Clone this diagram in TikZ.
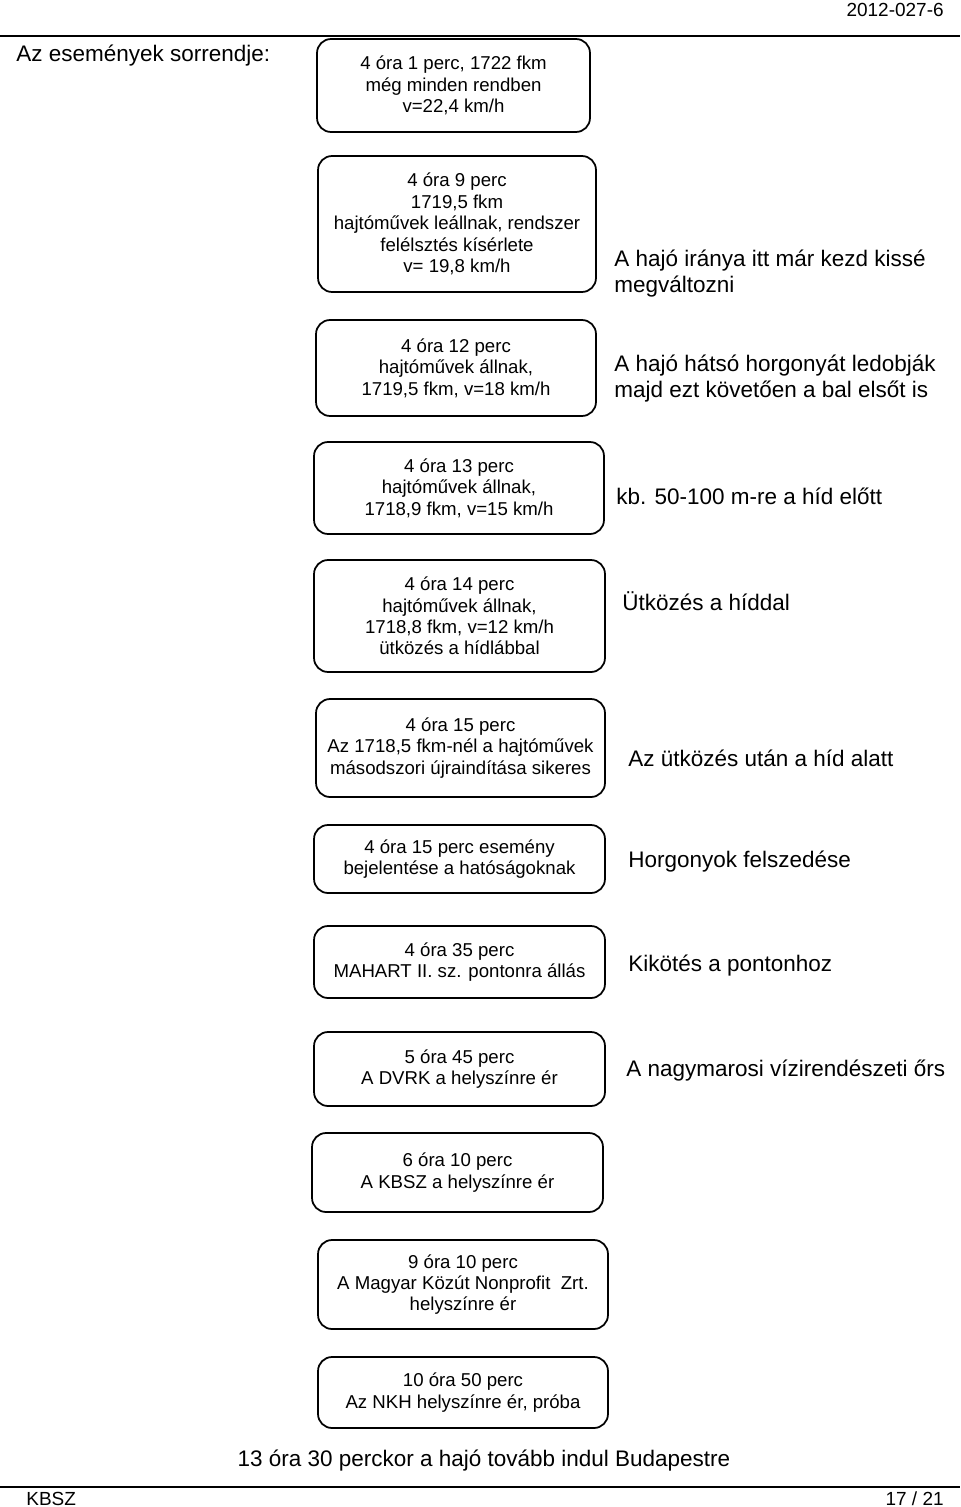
\documentclass[tikz,border=0pt]{standalone}
\usepackage{fontspec}
\setmainfont{Liberation Sans}
\begin{document}
\begin{tikzpicture}[x=0.02cm,y=-0.02cm,
  evbox/.style={draw, line width=1pt, rounded corners=0.28cm, align=center,
    inner sep=0pt, font=\fontsize{10.6}{12.2}\selectfont},
  note/.style={anchor=west, align=left, inner sep=0pt,
    font=\fontsize{12.8}{14.8}\selectfont},
  pagetext/.style={inner sep=0pt, font=\fontsize{10.8}{13}\selectfont}]
\useasboundingbox (0,0) rectangle (960,1507);
% header and footer
\node[pagetext, anchor=east] (docnr) at (944,10) {2012-027-6};
\draw[line width=1pt] (0,36) -- (960,36);
\draw[line width=1pt] (0,1487) -- (960,1487);
\node[pagetext, anchor=west] (kbsz) at (26,1498.5) {KBSZ};
\node[pagetext, anchor=east] (pagenr) at (944,1498.5) {17 / 21};
\node[note] (title) at (16,56) {Az események sorrendje:};
% events
\node[evbox, minimum width=5.46cm, minimum height=1.86cm] (ev1) at (453.5,85.5)
  {4 óra 1 perc, 1722 fkm\\még minden rendben\\v=22,4 km/h};
\node[evbox, minimum width=5.56cm, minimum height=2.72cm] (ev2) at (457,224)
  {4 óra 9 perc\\1719,5 fkm\\hajtóművek leállnak, rendszer\\felélsztés kísérlete\\v= 19,8 km/h};
\node[evbox, minimum width=5.6cm, minimum height=1.92cm] (ev3) at (456,368)
  {4 óra 12 perc\\hajtóművek állnak,\\1719,5 fkm, v=18 km/h};
\node[evbox, minimum width=5.8cm, minimum height=1.84cm] (ev4) at (459,488)
  {4 óra 13 perc\\hajtóművek állnak,\\1718,9 fkm, v=15 km/h};
\node[evbox, minimum width=5.82cm, minimum height=2.24cm] (ev5) at (459.5,616)
  {4 óra 14 perc\\hajtóművek állnak,\\1718,8 fkm, v=12 km/h\\ütközés a hídlábbal};
\node[evbox, minimum width=5.78cm, minimum height=1.96cm] (ev6) at (460.5,748)
  {4 óra 15 perc\\Az 1718,5 fkm-nél a hajtóművek\\másodszori újraindítása sikeres};
\node[evbox, minimum width=5.82cm, minimum height=1.36cm] (ev7) at (459.5,859)
  {4 óra 15 perc esemény\\bejelentése a hatóságoknak};
\node[evbox, minimum width=5.82cm, minimum height=1.44cm] (ev8) at (459.5,962)
  {4 óra 35 perc\\MAHART II. sz. pontonra állás};
\node[evbox, minimum width=5.82cm, minimum height=1.48cm] (ev9) at (459.5,1069)
  {5 óra 45 perc\\A DVRK a helyszínre ér};
\node[evbox, minimum width=5.82cm, minimum height=1.58cm] (ev10) at (457.5,1172.5)
  {6 óra 10 perc\\A KBSZ a helyszínre ér};
\node[evbox, minimum width=5.8cm, minimum height=1.78cm] (ev11) at (463,1284.5)
  {9 óra 10 perc\\A Magyar Közút Nonprofit\ \ Zrt.\\helyszínre ér};
\node[evbox, minimum width=5.8cm, minimum height=1.42cm] (ev12) at (463,1392.5)
  {10 óra 50 perc\\Az NKH helyszínre ér, próba};
% remarks
\node[note] (rm2) at (614,274) {A hajó iránya itt már kezd kissé\\megváltozni};
\node[note] (rm3) at (614,378.5) {A hajó hátsó horgonyát ledobják\\majd ezt követően a bal elsőt is};
\node[note] (rm4) at (616,496) {kb. 50-100 m-re a híd előtt};
\node[note] (rm5) at (622,601) {Ütközés a híddal};
\node[note] (rm6) at (628,758) {Az ütközés után a híd alatt};
\node[note] (rm7) at (628,862) {Horgonyok felszedése};
\node[note] (rm8) at (628,966) {Kikötés a pontonhoz};
\node[note] (rm9) at (626,1071) {A nagymarosi vízirendészeti őrs};
\node[note, anchor=center] (finish) at (484,1461) {13 óra 30 perckor a hajó tovább indul Budapestre};
\end{tikzpicture}
\end{document}
